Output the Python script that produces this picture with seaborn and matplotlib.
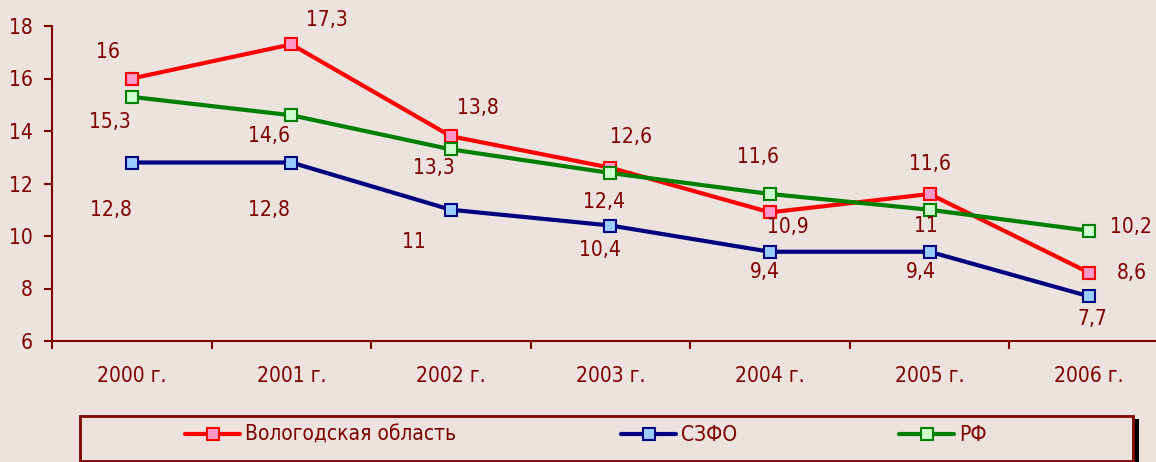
import matplotlib
matplotlib.use('Agg')
import matplotlib.pyplot as plt
from matplotlib.patches import Rectangle
import seaborn as sns
import numpy as np

years = ['2000 г.', '2001 г.', '2002 г.', '2003 г.', '2004 г.', '2005 г.', '2006 г.']
vologda = [16, 17.3, 13.8, 12.6, 10.9, 11.6, 8.6]
szfo = [12.8, 12.8, 11, 10.4, 9.4, 9.4, 7.7]
rf = [15.3, 14.6, 13.3, 12.4, 11.6, 11, 10.2]
names = ['Вологодская область', 'СЗФО', 'РФ']

# label offsets in pixels (dx, dy) for each point
off_vologda = [(-24, 26), (36, 24), (27, 28), (21, 31), (18, -15), (0, 30), (43, 0)]
off_szfo = [(-21, -48), (-22, -48), (-37, -32), (-11, -24), (-5, -20), (-9, -20), (3, -23)]
off_rf = [(-22, -25), (-22, -21), (-17, -19), (-6, -29), (-12, 37), (-4, -16), (42, 4)]

bg = '#ECE3DF'
txt = '#800000'
sns.set_style('white')
plt.rcParams['font.family'] = ['DejaVu Sans']
plt.rcParams['font.stretch'] = 'condensed'

fig = plt.figure(figsize=(11.56, 4.62), dpi=100)
fig.patch.set_facecolor(bg)
ax = fig.add_axes([52 / 1156, 121 / 462, 1117 / 1156, 315 / 462])
ax.set_facecolor(bg)

series = [
    (vologda, '#FF0000', '#FF99CC', off_vologda),
    (szfo, '#000080', '#99CCFF', off_szfo),
    (rf, '#008000', '#CCFFCC', off_rf),
]
x = np.arange(len(years))
for (vals, c, fc, offs), name in zip(series, names):
    sns.lineplot(x=x, y=vals, ax=ax, color=c, lw=3, marker='s', markersize=8.5,
                 markerfacecolor=fc, markeredgecolor=c, markeredgewidth=1.5,
                 label=name, legend=False)
for (vals, c, fc, offs) in series:
    for xi, v, (dx, dy) in zip(x, vals, offs):
        ax.annotate(f'{v:g}'.replace('.', ','), (xi, v), xytext=(dx, dy),
                    textcoords='offset pixels', ha='center', va='center',
                    fontsize=15, color=txt)

ax.set_xlim(-0.5, 6.5)
ax.set_ylim(6, 18)
ax.set_yticks(range(6, 19, 2))
ax.set_xticks(x)
ax.set_xticklabels(years)
ax.set_xticks(np.arange(-0.5, 7, 1), minor=True)
ax.tick_params(axis='x', which='major', length=0, pad=18, labelsize=15, labelcolor=txt)
ax.tick_params(axis='x', which='minor', length=6, width=1.5, color=txt, direction='out', bottom=True)
ax.tick_params(axis='y', length=6, width=1.5, color=txt, pad=8, labelsize=15,
               labelcolor=txt, left=True, direction='out')
for s in ['top', 'right']:
    ax.spines[s].set_visible(False)
for s in ['left', 'bottom']:
    ax.spines[s].set_color(txt)
    ax.spines[s].set_linewidth(1.5)
ax.set_xlabel('')
ax.set_ylabel('')

# legend box with shadow
fig.patches.append(Rectangle((1133 / 1156, 0), 6 / 1156, 43 / 462, transform=fig.transFigure,
                             facecolor='black', edgecolor='none', zorder=0))
fig.patches.append(Rectangle((80 / 1156, 1 / 462), 1053 / 1156, 45 / 462, transform=fig.transFigure,
                             facecolor=bg, edgecolor=txt, lw=2, zorder=1))
handles, labels = ax.get_legend_handles_labels()
for h, l, lx in zip(handles, labels, [185, 621, 899]):
    leg = fig.legend([h], [l], loc='center left', bbox_to_anchor=(lx / 1156, 27 / 462),
                     frameon=False, fontsize=15, handlelength=2.65, handletextpad=0.25,
                     borderaxespad=0, borderpad=0)
    for t in leg.get_texts():
        t.set_color(txt)

fig.savefig('out.png', dpi=100, facecolor=bg)
